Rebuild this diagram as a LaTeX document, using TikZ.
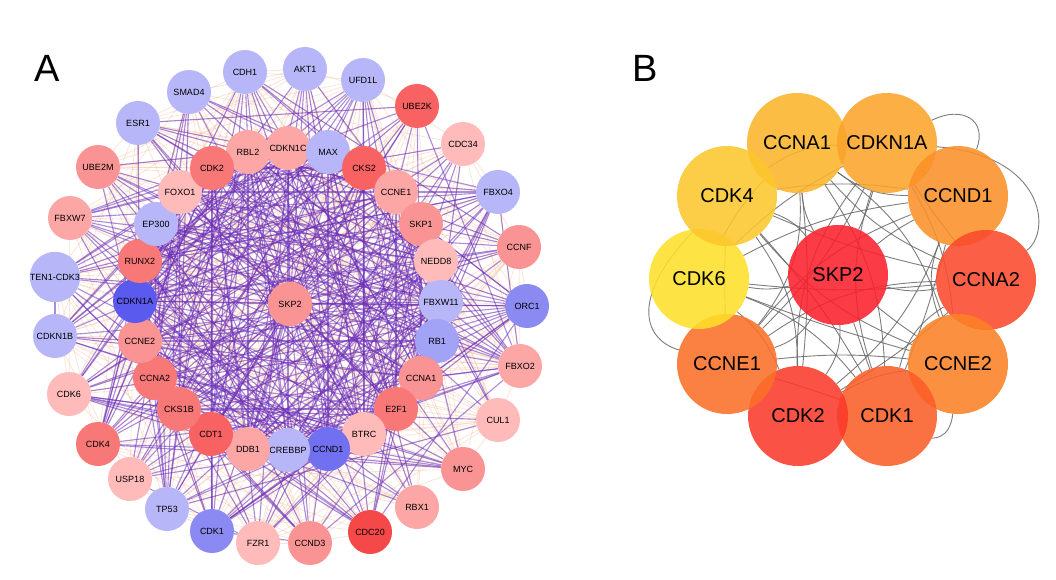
\documentclass[tikz,border=0pt]{standalone}
\usepackage{fontspec}
\setmainfont{Liberation Sans}
\pgfdeclarelayer{edges}
\pgfsetlayers{edges,main}
\definecolor{blA}{HTML}{B6B6F8}
\definecolor{blB}{HTML}{A2A2F6}
\definecolor{blC}{HTML}{8A8AF2}
\definecolor{blD}{HTML}{7070F0}
\definecolor{blE}{HTML}{5A5AEE}
\definecolor{pkA}{HTML}{FFBABA}
\definecolor{pkB}{HTML}{FCA6A6}
\definecolor{pkC}{HTML}{FA9494}
\definecolor{rdA}{HTML}{F87878}
\definecolor{rdB}{HTML}{F86262}
\definecolor{rdC}{HTML}{F54848}
\definecolor{ppl}{HTML}{6A2DBA}
\definecolor{org}{HTML}{F2B48C}
\tikzset{
  anode/.style={circle, minimum size=44pt, inner sep=0pt, font=\fontsize{9}{10}\selectfont},
  bnode/.style={circle, minimum size=100pt, inner sep=0pt, fill opacity=0.88, text opacity=1, font=\fontsize{20}{24}\selectfont},
  aedge/.style={ppl, line width=1.1pt, opacity=0.55},
  fedge/.style={org, line width=0.8pt, opacity=0.35},
  bedge/.style={gray!80!black, line width=0.9pt, opacity=0.85},
  panel/.style={font=\fontsize{38}{40}\selectfont}
}

\begin{document}
\begin{tikzpicture}[x=1pt, y=-1pt]
\useasboundingbox (0,0) rectangle (1056,580);
\node[panel] (labA) at (47,68) {A};
\node[panel] (labB) at (645,68) {B};
\foreach \g/\c/\x/\y [count=\i] in {CDH1/blA/245/72, AKT1/blA/305/69, UFD1L/blA/363/80, UBE2K/rdB/417/106,
  CDC34/pkA/463/144, FBXO4/blA/498/192, CCNF/pkC/519/247, ORC1/blC/527/306, FBXO2/pkB/520/366,
  CUL1/pkA/498/420, MYC/pkC/463/469, RBX1/pkB/417/507, CDC20/rdC/370/532, CCND3/pkC/310/543,
  FZR1/pkA/258/543, CDK1/blC/212/531, TP53/blA/167/509, USP18/pkA/130/479, CDK4/rdA/98/444,
  CDK6/pkA/69/394, CDKN1B/blA/55/336, TEN1-CDK3/blA/55/277, FBXW7/pkB/70/218, UBE2M/pkC/98/167,
  ESR1/blA/138/123, SMAD4/blA/189/92,
  RBL2/pkB/248/152, CDKN1C/pkB/288/148, MAX/blA/328/152, CKS2/rdB/364/168, CCNE1/pkB/396/192,
  SKP1/pkC/421/224, NEDD8/pkA/436/261, FBXW11/blA/441/302, RB1/blB/437/341, CCNA1/pkC/421/378,
  E2F1/rdA/396/409, BTRC/pkA/364/434, CCND1/blD/328/449, CREBBP/blA/288/450, DDB1/pkB/248/449,
  CDT1/rdB/211/434, CKS1B/rdA/179/409, CCNA2/rdA/155/378, CCNE2/pkC/140/341, CDKN1A/blE/135/301,
  RUNX2/rdA/140/261, EP300/blA/156/224, FOXO1/pkA/180/192, CDK2/rdA/212/168, SKP2/pkC/290/304}
  \node[anode, fill=\c] (a\i) at (\x,\y) {\g};
\pgfmathsetseed{2718}
\begin{pgfonlayer}{edges}
\foreach \i in {1,...,50} {
  \pgfmathtruncatemacro\k{\i+1}
  \foreach \j in {\k,...,51} {
    \pgfmathtruncatemacro\hit{rnd<0.3}
    \ifnum\hit=1 \draw[fedge] (a\i) -- (a\j); \fi
  }
}
\foreach \i in {1,...,50} {
  \pgfmathtruncatemacro\k{\i+1}
  \foreach \j in {\k,...,51} {
    \ifnum\j=51 \def\p{0.6}\else\ifnum\i>26 \def\p{0.5}\else\ifnum\j>26 \def\p{0.36}\else\def\p{0.05}\fi\fi\fi
    \pgfmathtruncatemacro\hit{rnd<\p}
    \ifnum\hit=1 \draw[aedge] (a\i) -- (a\j); \fi
  }
}
\draw[aedge] (a21) -- (a22);
\end{pgfonlayer}
\foreach \g/\c/\x/\y [count=\i] in {CCNA1/FBB42A/797/143, CDKN1A/FAA42A/887/143, CCND1/FA9028/958/196,
  CCNA2/FB4A2C/986/280, CCNE2/FB8226/958/364, CDK1/FB5E28/887/416, CDK2/FB3A2C/798/416,
  CCNE1/FB7028/727/364, CDK6/FDE02A/699/279, CDK4/FCC62C/727/196, SKP2/FB202C/838/275} {
  \definecolor{bfill}{HTML}{\c}
  \node[bnode, fill=bfill] (b\i) at (\x,\y) {\g};
}
\begin{pgfonlayer}{edges}
\foreach \i in {1,...,10} {
  \pgfmathtruncatemacro\k{\i+1}
  \foreach \j in {\k,...,11} {
    \pgfmathsetmacro\bend{rand*22}
    \draw[bedge] (b\i) to[bend left=\bend] (b\j);
  }
}
\draw[bedge] (b2) .. controls (962,105) and (988,120) .. (b3);
\draw[bedge] (b2) .. controls (1045,155) and (1052,232) .. (b4);
\draw[bedge] (b10) .. controls (628,300) and (645,340) .. (b8);
\draw[bedge] (b5) .. controls (950,440) and (932,438) .. (b6);
\end{pgfonlayer}
\end{tikzpicture}
\end{document}
